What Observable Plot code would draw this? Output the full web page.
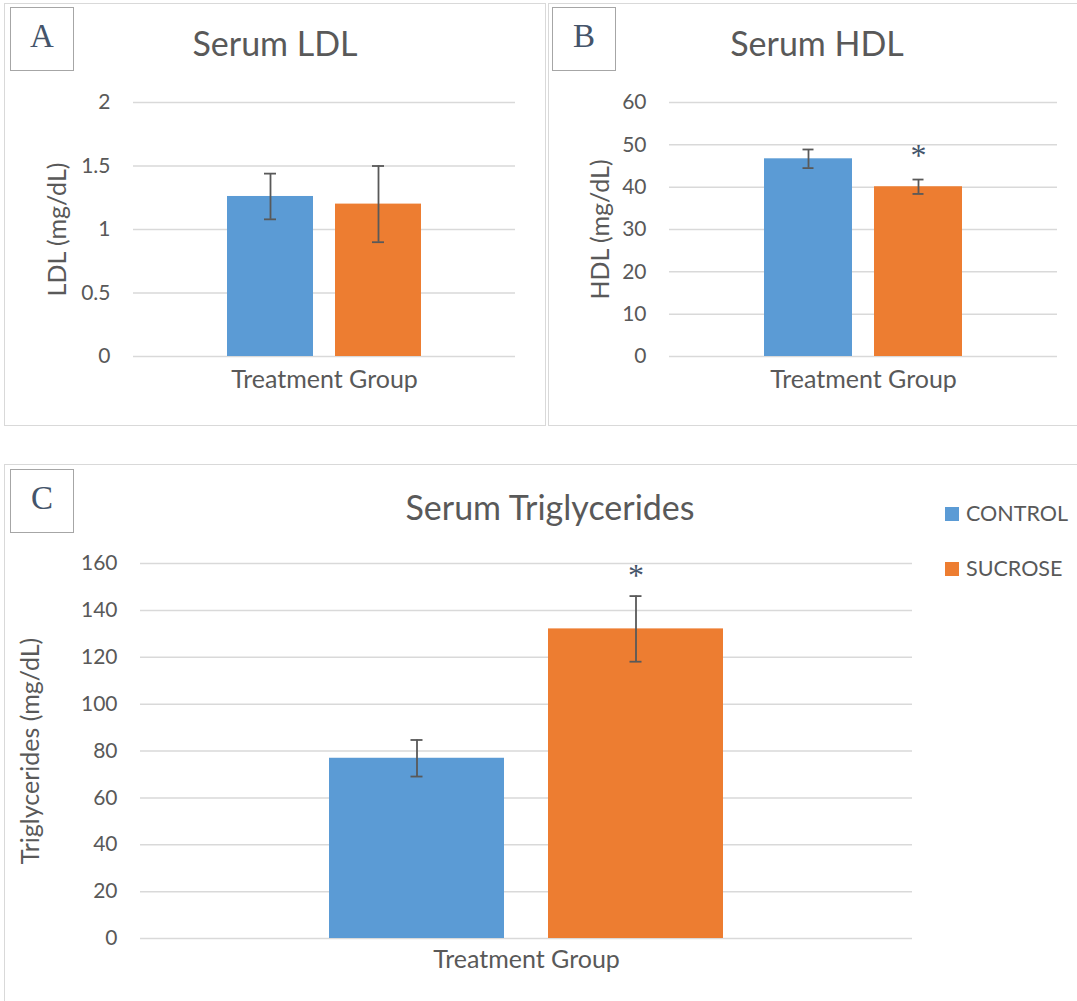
<!DOCTYPE html>
<html><head><meta charset="utf-8">
<script src="https://cdn.jsdelivr.net/npm/d3@7"></script>
<script src="https://cdn.jsdelivr.net/npm/@observablehq/plot@0.6"></script>
<style>
body{margin:0;background:#fff;font-family:Lato,sans-serif;}
#root{position:relative;width:1077px;height:1001px;overflow:hidden;background:#fff;}
.panel{position:absolute;}
.panel::after{content:"";position:absolute;left:0;top:0;right:0;bottom:0;border:1px solid #d9d9d9;pointer-events:none;}
.panel svg{position:absolute;left:0;top:0;}
.letter{position:absolute;width:64px;height:64px;border:1px solid #a6a6a6;box-sizing:border-box;font-family:"Liberation Serif",serif;font-size:33px;color:#44546a;text-align:center;line-height:57px;background:#fff;z-index:2;}
.title{position:absolute;font-size:34px;color:#595959;white-space:nowrap;transform:translateX(-50%);line-height:1;}
.legend{position:absolute;font-size:21.5px;color:#595959;}
.legend .row{position:absolute;left:0;display:flex;align-items:center;white-space:nowrap;line-height:1;}
.legend .sw{width:14px;height:14px;margin-right:7px;}
</style>
</head><body>
<div id="root"></div>
<script>
// ---- data ----
const series = ["CONTROL", "SUCROSE"];
const colors = ["#5b9bd5", "#ed7d31"];
const xTitle = "Treatment Group";

const ldlTitle = "Serum LDL";
const ldlLabel = "LDL (mg/dL)";
const ldlValues = [1.26, 1.20];
const ldlErrors = [0.18, 0.30];
const ldlTicks = [0, 0.5, 1, 1.5, 2];
const ldlSig = [false, false];

const hdlTitle = "Serum HDL";
const hdlLabel = "HDL (mg/dL)";
const hdlValues = [46.7, 40.1];
const hdlErrors = [2.2, 1.7];
const hdlTicks = [0, 10, 20, 30, 40, 50, 60];
const hdlSig = [false, true];

const tgTitle = "Serum Triglycerides";
const tgLabel = "Triglycerides (mg/dL)";
const tgValues = [76.9, 132.1];
const tgErrors = [7.8, 14.0];
const tgTicks = [0, 20, 40, 60, 80, 100, 120, 140, 160];
const tgSig = [false, true];

// ---- drawing ----
const root = document.getElementById("root");

function makePanel(cfg) {
  const div = document.createElement("div");
  div.className = "panel";
  Object.assign(div.style, {left: cfg.L + "px", top: cfg.T + "px", width: cfg.W + "px", height: cfg.H + "px"});
  root.appendChild(div);

  const data = series.map((s, i) => ({series: s, value: cfg.values[i], err: cfg.errors[i], sig: cfg.sig[i]}));
  const plot = Plot.plot({
    width: cfg.W, height: cfg.H,
    marginLeft: cfg.mL, marginRight: cfg.mR, marginTop: cfg.mT, marginBottom: cfg.mB,
    style: {fontFamily: "Lato, sans-serif", color: "#595959", background: "transparent", overflow: "visible"},
    x: {domain: series, paddingInner: 0.2, paddingOuter: 0.857, axis: null},
    y: {domain: [cfg.ticks[0], cfg.ticks[cfg.ticks.length - 1]], axis: null},
    color: {domain: series, range: colors},
    marks: [
      Plot.gridY(cfg.ticks, {stroke: "#d9d9d9", strokeOpacity: 1, strokeWidth: 1.5}),
      Plot.axisY(cfg.ticks, {tickSize: 0, tickPadding: 23, fontSize: 21, label: null, fill: "#595959", tickFormat: d => String(d)}),
      Plot.barY(data, {x: "series", y: "value", fill: "series"}),
      Plot.ruleX(data, {x: "series", y1: d => d.value - d.err, y2: d => d.value + d.err, stroke: "#595959", strokeWidth: 1.8}),
      Plot.tickY(data, {x: "series", y: d => d.value + d.err, stroke: "#595959", strokeWidth: 1.8, insetLeft: cfg.capInset, insetRight: cfg.capInset}),
      Plot.tickY(data, {x: "series", y: d => d.value - d.err, stroke: "#595959", strokeWidth: 1.8, insetLeft: cfg.capInset, insetRight: cfg.capInset}),
      Plot.text(data.filter(d => d.sig), {x: "series", y: d => d.value + d.err, text: () => "*", dy: cfg.starDy, fontSize: 32, fill: "#44546a", fontFamily: "Liberation Serif, serif"}),
      Plot.text([xTitle], {frameAnchor: "bottom", textAnchor: "middle", lineAnchor: "middle", dy: cfg.xDy, fontSize: 25, fill: "#595959"}),
      Plot.text([cfg.label], {frameAnchor: "left", textAnchor: "middle", lineAnchor: "middle", rotate: -90, dx: cfg.yDx, fontSize: 25, fill: "#595959"})
    ]
  });
  div.appendChild(plot);

  const t = document.createElement("div");
  t.className = "title";
  t.textContent = cfg.title;
  Object.assign(t.style, {left: cfg.titleX + "px", top: cfg.titleY + "px"});
  div.appendChild(t);

  const l = document.createElement("div");
  l.className = "letter";
  l.textContent = cfg.letter;
  Object.assign(l.style, {left: cfg.letterX + "px", top: cfg.letterY + "px"});
  div.appendChild(l);
  return div;
}

makePanel({letter: "A", title: ldlTitle, label: ldlLabel, values: ldlValues, errors: ldlErrors, ticks: ldlTicks, sig: ldlSig,
  L: 4, T: 3, W: 542, H: 423, mL: 129, mR: 31, mT: 99, mB: 70, capInset: 37, starDy: -27, xDy: 23, yDx: -76,
  titleX: 271, titleY: 23, letterX: 6, letterY: 4});

makePanel({letter: "B", title: hdlTitle, label: hdlLabel, values: hdlValues, errors: hdlErrors, ticks: hdlTicks, sig: hdlSig,
  L: 548, T: 3, W: 530, H: 423, mL: 121, mR: 21, mT: 99, mB: 70, capInset: 38.5, starDy: -24, xDy: 23, yDx: -69,
  titleX: 269, titleY: 23, letterX: 4, letterY: 4});

const pc = makePanel({letter: "C", title: tgTitle, label: tgLabel, values: tgValues, errors: tgErrors, ticks: tgTicks, sig: tgSig,
  L: 4, T: 464, W: 1074, H: 540, mL: 136, mR: 166, mT: 99, mB: 66, capInset: 81.5, starDy: -20, xDy: 21, yDx: -110,
  titleX: 546, titleY: 26, letterX: 6, letterY: 5});

// legend
const leg = document.createElement("div");
leg.className = "legend";
Object.assign(leg.style, {left: "941px", top: "0px"});
series.forEach((s, i) => {
  const row = document.createElement("div");
  row.className = "row";
  row.style.top = (39 + i * 55) + "px";
  const sw = document.createElement("span");
  sw.className = "sw";
  sw.style.background = colors[i];
  const tx = document.createElement("span");
  tx.textContent = s;
  row.appendChild(sw); row.appendChild(tx);
  leg.appendChild(row);
});
pc.appendChild(leg);
</script>
</body></html>
